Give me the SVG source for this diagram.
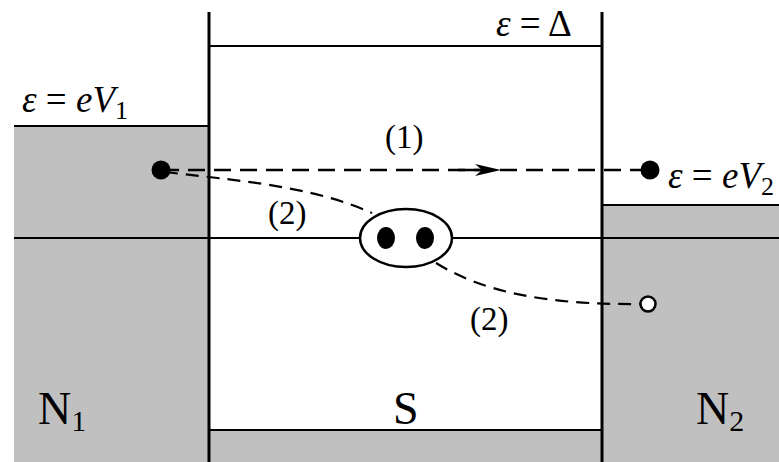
<svg xmlns="http://www.w3.org/2000/svg" width="779" height="462" viewBox="0 0 779 462">
<defs>
<marker id="ah" markerWidth="26" markerHeight="12" refX="13" refY="6" orient="auto" markerUnits="userSpaceOnUse">
<path d="M0,0 L26,6 L0,12 L7,6 Z" fill="#000"/>
</marker>
</defs>
<g id="N1">
<rect fill="#c0c0c0" x="14" y="126" width="195" height="336"/>
<line stroke="#000" stroke-width="2" x1="14" y1="126" x2="209" y2="126"/>
<text x="38" y="424" font-family="Liberation Serif" font-size="46">N<tspan font-size="30" dy="7">1</tspan></text>
<text x="22" y="112" font-family="Liberation Serif" font-size="37"><tspan font-style="italic">ε</tspan> = <tspan font-style="italic">eV</tspan><tspan font-size="26" dy="7">1</tspan></text>
</g>
<g id="N2">
<rect fill="#c0c0c0" x="602" y="205" width="177" height="257"/>
<line stroke="#000" stroke-width="2" x1="602" y1="205" x2="779" y2="205"/>
<text x="696" y="424" font-family="Liberation Serif" font-size="46">N<tspan font-size="30" dy="7">2</tspan></text>
<text x="668" y="188" font-family="Liberation Serif" font-size="37"><tspan font-style="italic">ε</tspan> = <tspan font-style="italic">eV</tspan><tspan font-size="26" dy="7">2</tspan></text>
</g>
<g id="S">
<rect fill="#c0c0c0" x="209" y="430" width="393" height="32"/>
<line stroke="#000" stroke-width="2" x1="209" y1="430" x2="602" y2="430"/>
<line stroke="#000" stroke-width="2" x1="209" y1="46" x2="602" y2="46"/>
<line stroke="#000" stroke-width="2" x1="14" y1="238" x2="779" y2="238"/>
<line stroke="#000" stroke-width="3" x1="209" y1="12" x2="209" y2="462"/>
<line stroke="#000" stroke-width="3" x1="602" y1="12" x2="602" y2="462"/>
<text x="393" y="424" font-family="Liberation Serif" font-size="46">S</text>
<text x="496" y="36" font-family="Liberation Serif" font-size="37"><tspan font-style="italic">ε</tspan> = Δ</text>
</g>
<g id="connectors" fill="none" stroke="#000">
<line stroke-width="2.5" stroke-dasharray="17 9" x1="162" y1="170" x2="648" y2="170"/>
<line x1="458" y1="170" x2="488" y2="170" stroke-width="2.5" marker-end="url(#ah)"/>
<path stroke-width="2.2" stroke-dasharray="13 8" d="M165,172 C230,180 310,185 372,213"/>
<path stroke-width="2.2" stroke-dasharray="13 8" d="M436,263 C480,290 540,305 640,304"/>
</g>
<g id="labels">
<text x="385" y="148" font-family="Liberation Serif" font-size="33">(1)</text>
<text x="268" y="224" font-family="Liberation Serif" font-size="33">(2)</text>
<text x="470" y="330" font-family="Liberation Serif" font-size="33">(2)</text>
</g>
<g id="particles">
<circle cx="161" cy="170" r="9.5" fill="#000"/>
<circle cx="650" cy="170" r="9.5" fill="#000"/>
<circle cx="648" cy="304" r="7.5" fill="#fff" stroke="#000" stroke-width="2.5"/>
<ellipse cx="406" cy="238" rx="46" ry="29" fill="#fff" stroke="#000" stroke-width="2.5"/>
<ellipse cx="386" cy="238" rx="9" ry="11" fill="#000"/>
<ellipse cx="425" cy="238" rx="9" ry="11" fill="#000"/>
</g>
</svg>
